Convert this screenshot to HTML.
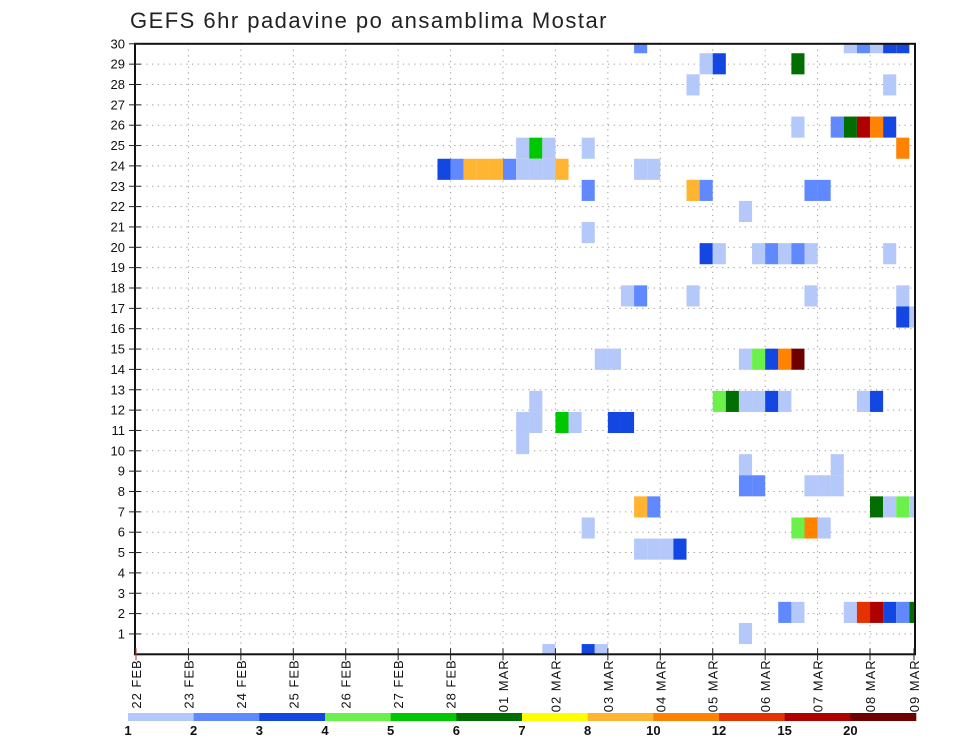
<!DOCTYPE html>
<html><head><meta charset="utf-8"><style>
html,body{margin:0;padding:0;background:#fff;}
svg{display:block;font-family:"Liberation Sans",sans-serif;}
</style></head><body>
<svg id="chart" width="960" height="742" viewBox="0 0 960 742" xmlns="http://www.w3.org/2000/svg">
<text x="130" y="28" font-size="22" fill="#222" letter-spacing="1.5" textLength="478" lengthAdjust="spacing">GEFS 6hr padavine po ansamblima Mostar</text>
<g id="grid"></g>
<g id="cells"></g>
<g id="axes"></g>
<g id="cbar"></g>
</svg>
<script>
const dayLabels = ["22 FEB","23 FEB","24 FEB","25 FEB","26 FEB","27 FEB","28 FEB","01 MAR","02 MAR","03 MAR","04 MAR","05 MAR","06 MAR","07 MAR","08 MAR","09 MAR"];
const memberTicks = [1,2,3,4,5,6,7,8,9,10,11,12,13,14,15,16,17,18,19,20,21,22,23,24,25,26,27,28,29,30];
const levelLabels = ["1","2","3","4","5","6","7","8","10","12","15","20"];
const levelColors = ["#b4c8fa","#6088ff","#1446e1","#6cf04c","#00c800","#006e00","#ffff00","#ffb432","#ff8200","#e63200","#af0000","#6e0000"];
// cell row index (ensemble member row), 6-hour step index from 22 FEB 00Z, colour level (1..12)
const members = [28,28,28,28,28,28, 27,27,27, 26,26, 24,24,24,24,24,24, 23,23,23,23,23,
 22,22,22,22,22,22,22,22,22,22,22,22, 21,21,21,21,21, 20, 19,
 18,18,18,18,18,18,18,18, 16,16,16,16,16, 15,15, 13,13,13,13,13,13,13,
 11,11,11,11,11,11,11,11,11, 10,10,10,10,10,10, 9, 8,8, 7,7,7,7,7,
 6,6,6,6,6,6, 5,5,5,5, 4,4,4,4, 1,1,1,1,1,1,1,1, 0, -1,-1,-1];
const steps = [38,54,55,56,57,58, 43,44,50, 42,57, 50,53,54,55,56,57, 29,30,31,34,58,
 23,24,25,26,27,28,29,30,31,32,38,39, 34,42,43,51,52, 46, 34,
 43,44,47,48,49,50,51,57, 37,38,42,51,58, 58,59, 35,36,46,47,48,49,50,
 30,44,45,46,47,48,49,55,56, 29,30,32,33,36,37, 29, 46,53, 46,47,51,52,53,
 38,39,56,57,58,59, 34,50,51,52, 38,39,40,41, 49,50,54,55,56,57,58,59, 46, 31,34,35];
const levels = [2,1,2,1,3,3, 1,3,6, 1,1, 1,2,6,11,9,3, 1,5,1,1,9,
 3,2,8,8,8,2,1,1,1,8,1,1, 2,8,2,2,2, 1, 1,
 3,1,1,2,1,2,1,1, 1,2,1,1,1, 3,1, 1,1,1,4,3,9,12,
 1,4,6,1,1,3,1,1,3, 1,1,5,1,3,3, 1, 1,1, 2,2,1,1,1,
 8,2,6,1,4,1, 1,4,9,1, 1,1,1,3, 2,1,1,10,11,3,2,6, 1, 1,3,1];

const NS="http://www.w3.org/2000/svg";
const L=135,R=915,T=43.8,B=654.3;
const X0=136, DAY=52.43, STEP=DAY/4;
const xDay = d => X0 + DAY*d;
const xStep = i => X0 + STEP*i;
const yTick = k => B - 20.35*k;
const CELL_H=21.1;
const yCell = n => 633.5 - CELL_H*n;
function mk(tag,attrs,parent){const e=document.createElementNS(NS,tag);for(const k in attrs)e.setAttribute(k,attrs[k]);parent.appendChild(e);return e;}

const grid=document.getElementById('grid');
memberTicks.forEach(k=>{
  const l=mk('line',{x1:L,x2:R,y1:yTick(k),y2:yTick(k),stroke:'#999','stroke-width':1,'stroke-dasharray':'1.2,4.5'},grid);
  
  
});
dayLabels.forEach((s,d)=>{
  if(d===0||xDay(d)>R-2) return;
  const l=mk('line',{x1:xDay(d),x2:xDay(d),y1:T,y2:B,stroke:'#999','stroke-width':1,'stroke-dasharray':'1.2,4.5'},grid);
  
  
});

const cells=document.getElementById('cells');
for(let j=0;j<members.length;j++){
  let x1=xStep(steps[j]), x2=x1+STEP;
  let yc=yCell(members[j]); let y1=yc-CELL_H/2, y2=yc+CELL_H/2;
  x2=Math.min(x2,R); y1=Math.max(y1,T); y2=Math.min(y2,B);
  if(x2<=x1||y2<=y1) continue;
  const r=mk('rect',{x:x1,y:y1,width:x2-x1,height:y2-y1,fill:levelColors[levels[j]-1]},cells);
  
  
}

const axes=document.getElementById('axes');
const fr=mk('rect',{x:L,y:T,width:R-L,height:B-T,fill:'none',stroke:'#111','stroke-width':2},axes);


memberTicks.forEach(k=>{
  const y=yTick(k);
  mk('line',{x1:L-6,x2:L+6,y1:y,y2:y,stroke:'#222','stroke-width':1},axes);
  const t=mk('text',{x:125,y:y+4.5,'font-size':13,'text-anchor':'end',fill:'#111'},axes);
  t.textContent=k;
  
  
});
dayLabels.forEach((s,d)=>{
  const x=Math.min(xDay(d),R-1);
  mk('line',{x1:x,x2:x,y1:B-6,y2:B+6,stroke:d===0?'#c33':'#222','stroke-width':1},axes);
  const t=mk('text',{x:0,y:0,'font-size':13,'letter-spacing':1,'text-anchor':'end',fill:'#111',transform:`translate(${x+5},${B+5}) rotate(-90)`},axes);
  t.textContent=s;
  
  
});

const cbar=document.getElementById('cbar');
const CB0=128, CBW=(916-128)/levelColors.length;
levelColors.forEach((c,j)=>{
  const r=mk('rect',{x:CB0+CBW*j,y:713,width:CBW+0.3,height:8,fill:c},cbar);
  
  
});
levelLabels.forEach((s,j)=>{
  const t=mk('text',{x:CB0+CBW*j,y:735,'font-size':13,'font-weight':'bold','text-anchor':'middle',fill:'#111'},cbar);
  t.textContent=s;
  
  
});
</script>
</body></html>
